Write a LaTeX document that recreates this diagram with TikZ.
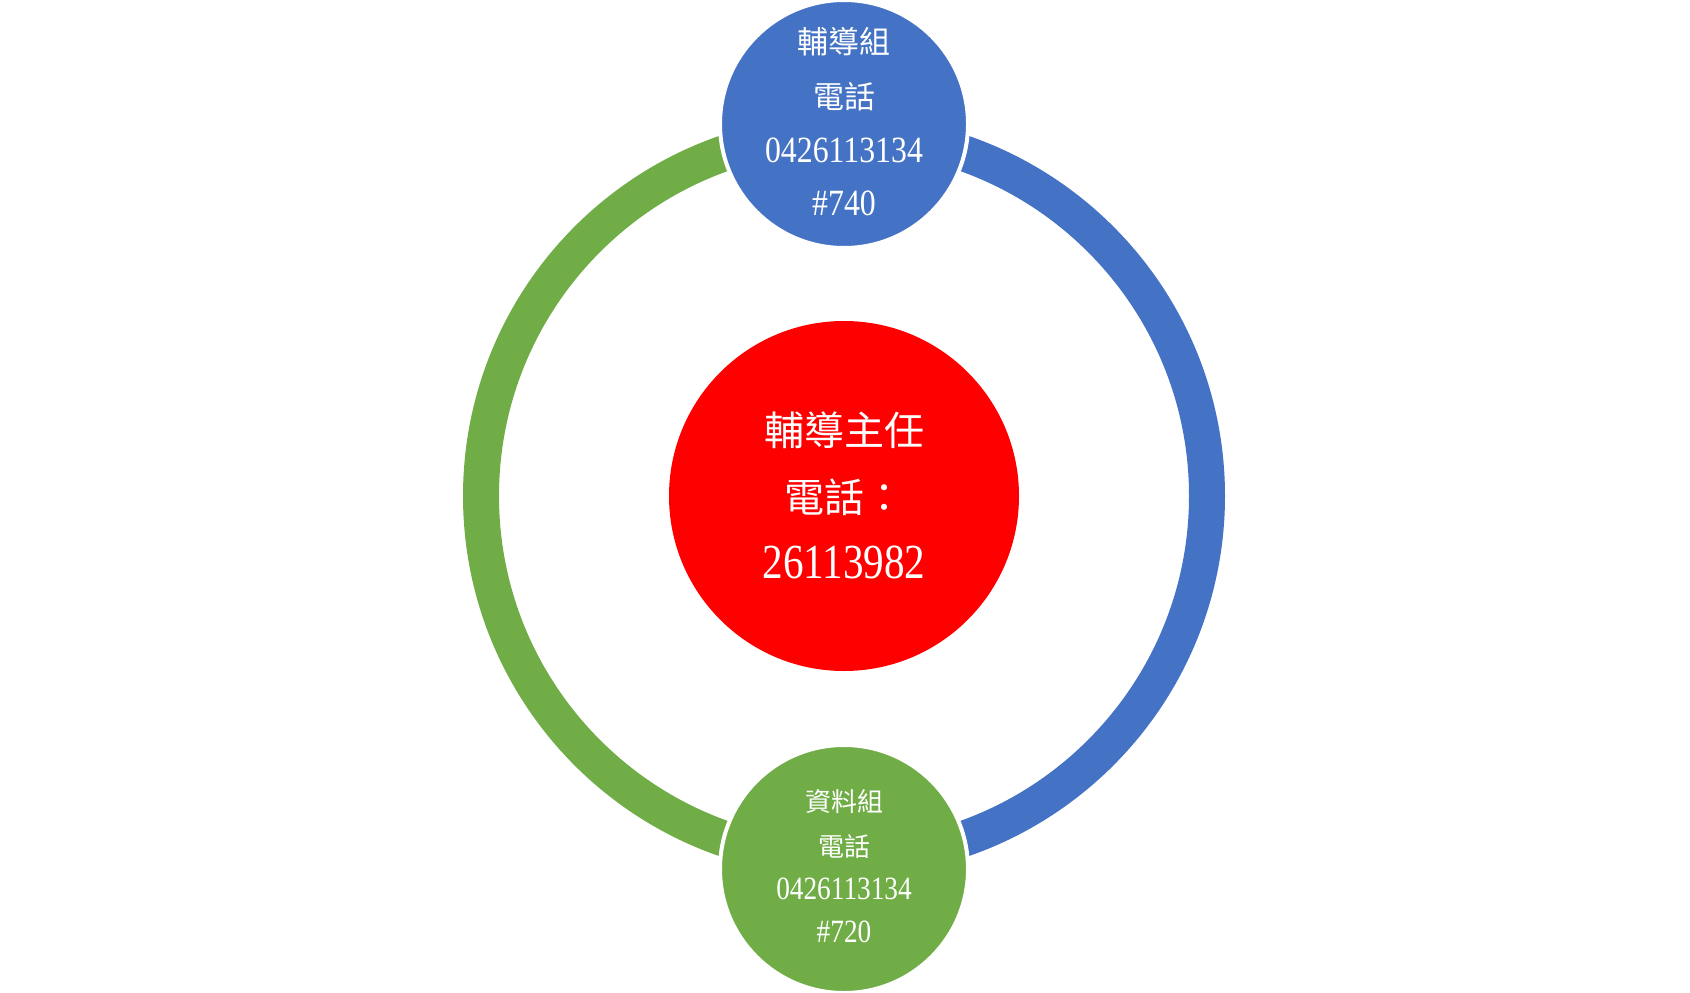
\documentclass[tikz,border=0pt]{standalone}
\usepackage{fontspec}
\newfontfamily\cjk{Noto Sans CJK TC}
\newfontfamily\digf{Liberation Serif}
\definecolor{cblue}{HTML}{4472C4}
\definecolor{cgreen}{HTML}{70AD47}
\definecolor{cred}{HTML}{FF0000}
\tikzset{
  smallc/.style={circle, draw=white, line width=4, minimum size=248, inner sep=0},
  txt/.style={text=white, inner sep=0},
  ringarc/.style={line width=36},
}
\newcommand{\zh}[2]{{\cjk\fontsize{#1}{#1}\selectfont #2}}
\newcommand{\dg}[3]{\scalebox{#1}[1]{\digf\fontsize{#2}{#2}\selectfont #3}}
\begin{document}
\begin{tikzpicture}[x=1pt,y=-1pt]
\useasboundingbox (0,0) rectangle (1690,993);
\coordinate (c) at (844,496);
\draw[ringarc, cgreen] ([shift={(90:363)}]c) arc[start angle=90, end angle=270, radius=363];
\draw[ringarc, cblue] ([shift={(-90:363)}]c) arc[start angle=-90, end angle=90, radius=363];
\node[circle, fill=cred, minimum size=350, inner sep=0] (mid) at (c) {};
\node[smallc, fill=cblue] (top) at (844,124) {};
\node[smallc, fill=cgreen] (bot) at (844,869) {};
% top texts
\node[txt] (t1) at (844,42) {\zh{31}{輔導組}};
\node[txt] (t2) at (844,97) {\zh{31}{電話}};
\node[txt] (t3) at (844,150) {\dg{0.86}{37}{0426113134}};
\node[txt] (t4) at (844,203) {\dg{0.86}{37}{\#740}};
% middle texts
\node[txt] (m1) at (844,430) {\zh{40}{輔導主任}};
\node[txt] (m2) at (844,497) {\zh{40}{電話：}};
\node[txt] (m3) at (844,562) {\dg{0.84}{49}{26113982}};
% bottom texts
\node[txt] (b1) at (844,802) {\zh{26}{資料組}};
\node[txt] (b2) at (844,847) {\zh{26}{電話}};
\node[txt] (b3) at (844,889) {\dg{0.84}{32.5}{0426113134}};
\node[txt] (b4) at (844,932) {\dg{0.84}{32.5}{\#720}};
\end{tikzpicture}
\end{document}
